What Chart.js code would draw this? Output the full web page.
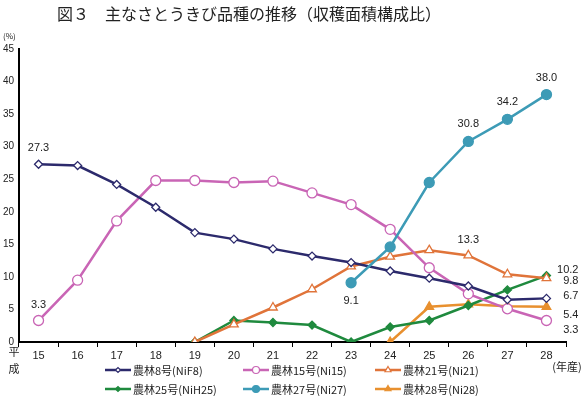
<!DOCTYPE html>
<html>
<head>
<meta charset="utf-8">
<script src="https://cdn.jsdelivr.net/npm/chart.js@4/dist/chart.umd.min.js"></script>
<style>
  body { margin: 0; background: #fff; }
  canvas { display: block; }
</style>
</head>
<body>
<canvas id="c" width="581" height="396"></canvas>
<script>
// 収穫面積構成比 (%) — 平成15〜28年産
const years = ['15', '16', '17', '18', '19', '20', '21', '22', '23', '24', '25', '26', '27', '28'];
const nif8 = [27.3, 27.1, 24.2, 20.7, 16.8, 15.8, 14.3, 13.2, 12.2, 10.9, 9.8, 8.6, 6.5, 6.7];
const ni15 = [3.3, 9.5, 18.6, 24.8, 24.8, 24.5, 24.7, 22.9, 21.1, 17.3, 11.4, 7.4, 5.1, 3.3];
const ni21 = [null, null, null, null, 0, 2.7, 5.3, 8.1, 11.6, 13.1, 14.1, 13.3, 10.4, 9.8];
const nih25 = [null, null, null, null, 0, 3.3, 3.0, 2.6, 0, 2.3, 3.3, 5.6, 8.0, 10.2];
const ni27 = [null, null, null, null, null, null, null, null, 9.1, 14.6, 24.5, 30.8, 34.2, 38.0];
const ni28 = [null, null, null, null, null, null, null, null, null, 0, 5.4, 5.8, 5.5, 5.4];
const seriesNames = ['農林8号(NiF8)', '農林15号(Ni15)', '農林21号(Ni21)', '農林25号(NiH25)', '農林27号(Ni27)', '農林28号(Ni28)'];
const yTicks = [0, 5, 10, 15, 20, 25, 30, 35, 40, 45];

const FONT = '"Liberation Sans", "Noto Sans CJK JP", sans-serif';
const JP = '"Noto Sans CJK JP", sans-serif';

function series(i, data, color, style, filled, radius) {
    return {
        label: seriesNames[i],
        data: data,
        borderColor: color,
        backgroundColor: filled ? color : '#fff',
        pointStyle: style,
        pointRadius: radius,
        pointBorderWidth: 1.3,
        pointBorderColor: color,
        borderWidth: 2.5,
        tension: 0,
        spanGaps: false
    };
}

const datasets = [
    series(4, ni27, '#3d9bb6', 'circle', true, 5),
    series(0, nif8, '#2c2a6c', 'rectRot', false, 4),
    series(1, ni15, '#c965b5', 'circle', false, 5),
    series(2, ni21, '#e0743a', 'triangle', false, 5),
    series(3, nih25, '#1f8a3e', 'rectRot', true, 4),
    series(5, ni28, '#e8902f', 'triangle', true, 5)
];

// value labels: [dataset label, index, dx, dy, align]
const valueLabels = [
    ['農林8号(NiF8)', 0, 0, -16, 'center'],
    ['農林15号(Ni15)', 0, 0, -16, 'center'],
    ['農林27号(Ni27)', 8, 0, 18, 'center'],
    ['農林27号(Ni27)', 11, 0, -17, 'center'],
    ['農林27号(Ni27)', 12, 0, -17, 'center'],
    ['農林27号(Ni27)', 13, 0, -17, 'center'],
    ['農林21号(Ni21)', 11, 0, -15, 'center'],
    ['農林25号(NiH25)', 13, 32, -6, 'right'],
    ['農林21号(Ni21)', 13, 32, 3, 'right'],
    ['農林8号(NiF8)', 13, 32, -2, 'right'],
    ['農林28号(Ni28)', 13, 32, 8, 'right'],
    ['農林15号(Ni15)', 13, 32, 9, 'right']
];

const extras = {
    id: 'extras',
    afterDraw(chart) {
        const ctx = chart.ctx;
        ctx.save();
        ctx.fillStyle = '#222';
        ctx.textBaseline = 'middle';

        // title
        ctx.font = '16px ' + JP;
        ctx.textAlign = 'center';
        ctx.fillText('図３　主なさとうきび品種の推移（収穫面積構成比）', 249, 14);

        ctx.font = '8px ' + JP;
        ctx.textAlign = 'left';
        ctx.fillText('(%)', 3, 36);

        ctx.font = '11px ' + JP;
        ctx.textAlign = 'center';
        ctx.fillText('平', 14, 352);
        ctx.fillText('成', 14, 369);
        ctx.fillText('(年産)', 567, 367);

        // value labels
        ctx.font = '11px ' + FONT;
        valueLabels.forEach(([name, idx, dx, dy, align]) => {
            const di = chart.data.datasets.findIndex(d => d.label === name);
            const pt = chart.getDatasetMeta(di).data[idx];
            const v = chart.data.datasets[di].data[idx];
            ctx.textAlign = align;
            ctx.fillText(v.toFixed(1), pt.x + dx, pt.y + dy);
        });

        // legend
        const cols = [105, 243, 375];
        const rows = [370, 389];
        const order = ['農林8号(NiF8)', '農林15号(Ni15)', '農林21号(Ni21)', '農林25号(NiH25)', '農林27号(Ni27)', '農林28号(Ni28)'];
        ctx.font = '11px ' + JP;
        ctx.textAlign = 'left';
        order.forEach((name, i) => {
            const d = chart.data.datasets.find(s => s.label === name);
            const x = cols[i % 3];
            const y = rows[Math.floor(i / 3)];
            ctx.strokeStyle = d.borderColor;
            ctx.lineWidth = 2.5;
            ctx.beginPath();
            ctx.moveTo(x, y);
            ctx.lineTo(x + 26, y);
            ctx.stroke();
            ctx.fillStyle = d.backgroundColor;
            ctx.lineWidth = 1.2;
            Chart.helpers.drawPoint(ctx, {
                pointStyle: d.pointStyle,
                radius: d.pointRadius - 1.5,
                rotation: 0,
                borderWidth: 1.2
            }, x + 13, y);
            ctx.fillStyle = '#222';
            ctx.fillText(name, x + 28, y + 1);
        });
        ctx.restore();
    }
};

new Chart(document.getElementById('c'), {
    type: 'line',
    data: { labels: years, datasets: datasets },
    options: {
        responsive: false,
        animation: false,
        layout: { padding: { left: 0, right: 15, top: 49, bottom: 34 } },
        plugins: {
            legend: { display: false },
            tooltip: { enabled: false }
        },
        scales: {
            x: {
                type: 'category',
                offset: true,
                grid: {
                    offset: true,
                    drawOnChartArea: false,
                    drawTicks: true,
                    tickLength: 5,
                    color: '#000',
                    lineWidth: 1
                },
                border: { color: '#000', width: 2 },
                ticks: {
                    color: '#222',
                    font: { size: 11, family: FONT },
                    maxRotation: 0,
                    padding: 2
                },
                afterFit: s => { s.height = 20; }
            },
            y: {
                min: 0,
                max: 45,
                afterBuildTicks: s => { s.ticks = yTicks.map(v => ({ value: v })); },
                grid: { drawOnChartArea: false, drawTicks: false },
                border: { color: '#000', width: 2 },
                ticks: {
                    color: '#222',
                    font: { size: 10, family: FONT },
                    padding: 5
                },
                afterFit: s => { s.width = 19; }
            }
        }
    },
    plugins: [extras]
});
</script>
</body>
</html>
